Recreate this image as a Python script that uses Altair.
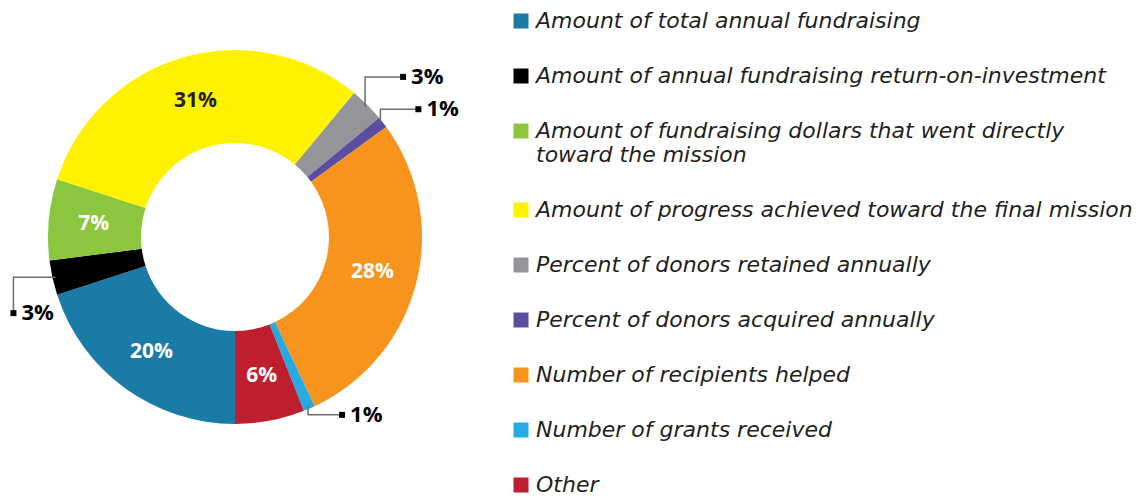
import math
import altair as alt
import pandas as pd

# ---------------- data ----------------
categories = [
    "Amount of total annual fundraising",
    "Amount of annual fundraising return-on-investment",
    "Amount of fundraising dollars that went directly|toward the mission",
    "Amount of progress achieved toward the final mission",
    "Percent of donors retained annually",
    "Percent of donors acquired annually",
    "Number of recipients helped",
    "Number of grants received",
    "Other",
]
values = [20, 3, 7, 31, 3, 1, 28, 1, 6]
colors = ["#1b7ba7", "#000000", "#8cc63f", "#fff200", "#939598",
          "#5b4ea2", "#f7941d", "#27aae1", "#be1e2d"]
inside = [True, False, True, True, False, False, True, False, True]
inside_text_colors = ["#ffffff", "#ffffff", "#ffffff", "#231f20", "#ffffff",
                      "#ffffff", "#ffffff", "#ffffff", "#ffffff"]

# ---------------- layout ----------------
W, H = 1125, 490
CX, CY = 227, 229
R_OUT, R_IN = 187, 94
R_LABEL = 142
R_ANCHOR = 184
START_DEG = 180.0
FONT = "Open Sans"
LEGEND_FONT = "DejaVu Sans"

# leader-line routing for the small slices: (first leg, dx, dy)
routing = {
    1: ("h", -42, 36),
    4: ("v", 38, -30),
    5: ("v", 38, -15),
    7: ("v", 34, 9),
}

total = float(sum(values))
labels = [f"{v}%" for v in values]

df = pd.DataFrame({
    "category": categories,
    "value": values,
    "order": list(range(len(values))),
    "inlabel": [l if i else "" for l, i in zip(labels, inside)],
    "tcolor": inside_text_colors,
})

# leader lines computed from slice mid-angles
line_rows, end_rows = [], []
cum = 0.0
for i, v in enumerate(values):
    mid = START_DEG + (cum + v / 2.0) / total * 360.0
    cum += v
    if i not in routing:
        continue
    a = math.radians(mid)
    ax = CX + R_ANCHOR * math.sin(a)
    ay = CY - R_ANCHOR * math.cos(a)
    mode, dx, dy = routing[i]
    if mode == "v":
        ex, ey = ax, ay + dy
    else:
        ex, ey = ax + dx, ay
    fx, fy = ax + dx, ay + dy
    for k, (px, py) in enumerate([(ax, ay), (ex, ey), (fx, fy)]):
        line_rows.append({"id": i, "k": k, "px": px, "py": py})
    end_rows.append({"id": i, "px": fx, "py": fy, "tx": fx + 8, "label": labels[i]})

lines_df = pd.DataFrame(line_rows)
ends_df = pd.DataFrame(end_rows)

theta = alt.Theta("value:Q", stack=True,
                  scale=alt.Scale(domain=[0, total], range=[math.pi, 3 * math.pi]))

base = alt.Chart(df).encode(theta=theta, order=alt.Order("order:Q"))

arcs = base.mark_arc(outerRadius=R_OUT, innerRadius=R_IN).encode(
    x=alt.value(CX), y=alt.value(CY),
    color=alt.Color(
        "category:N",
        scale=alt.Scale(domain=categories, range=colors),
        sort=None,
        legend=alt.Legend(
            title=None, orient="none", legendX=502, legendY=2,
            direction="vertical",
            symbolType="square", symbolSize=225, symbolStrokeWidth=0,
            symbolOffset=0, labelOffset=4,
            labelFont=LEGEND_FONT, labelFontSize=22, labelFontStyle="italic",
            labelColor="#231f20", labelLimit=700, rowPadding=33,
            padding=0,
            labelExpr="split(datum.label, '|')",
        ),
    ),
)

inner_text = base.mark_text(radius=R_LABEL, font=FONT, fontSize=21,
                            fontWeight="bold").encode(
    x=alt.value(CX), y=alt.value(CY),
    text="inlabel:N",
    color=alt.Color("tcolor:N", scale=None),
)

leaders = alt.Chart(lines_df).mark_line(color="#6d6e71", strokeWidth=1.5).encode(
    x=alt.X("px:Q", scale=None), y=alt.Y("py:Q", scale=None),
    detail="id:N", order="k:Q",
)

squares = alt.Chart(ends_df).mark_square(size=36, color="#000000", opacity=1).encode(
    x=alt.X("px:Q", scale=None), y=alt.Y("py:Q", scale=None),
)

out_text = alt.Chart(ends_df).mark_text(align="left", baseline="middle", font=FONT,
                                        fontSize=22, fontWeight="bold",
                                        color="#000000").encode(
    x=alt.X("tx:Q", scale=None), y=alt.Y("py:Q", scale=None),
    text="label:N",
)

chart = alt.layer(arcs, inner_text, leaders, squares, out_text).properties(
    width=W, height=H, autosize=alt.AutoSizeParams(type="none"), padding=0,
).configure_view(stroke=None)

chart.save("out.html", embed_options={"renderer": "svg", "actions": False})
